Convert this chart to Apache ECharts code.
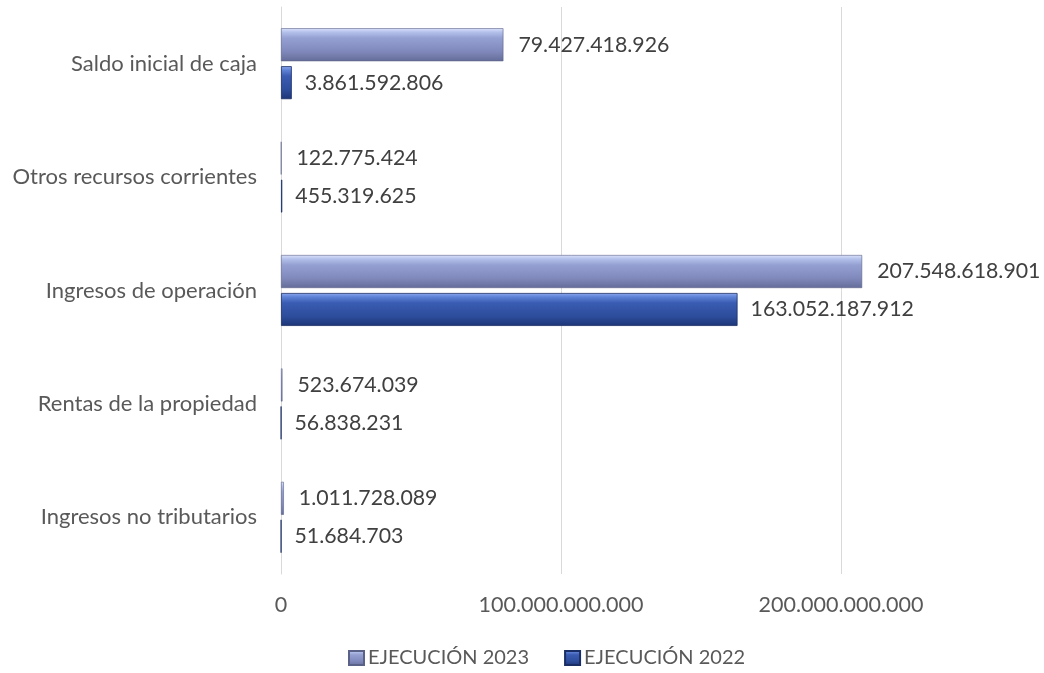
<!DOCTYPE html>
<html>
<head>
<meta charset="utf-8">
<script src="https://cdn.jsdelivr.net/npm/echarts@6/dist/echarts.min.js"></script>
<style>html,body{margin:0;padding:0;background:#fff}#c{width:1044px;height:673px}</style>
</head>
<body>
<div id="c"></div>
<script>
const categories = ['Ingresos no tributarios', 'Rentas de la propiedad', 'Ingresos de operación', 'Otros recursos corrientes', 'Saldo inicial de caja'];
const seriesNames = ['EJECUCIÓN 2023', 'EJECUCIÓN 2022'];
const values2023 = [1011728089, 523674039, 207548618901, 122775424, 79427418926];
const values2022 = [51684703, 56838231, 163052187912, 455319625, 3861592806];
const xTicks = [0, 100000000000, 200000000000];

function fmt(v) {
  return String(Math.round(v)).replace(/\B(?=(\d{3})+(?!\d))/g, '.');
}
const font = 'Lato, "Open Sans", sans-serif';
const txt = '#404040';
const axTxt = '#595959';

const grad2023 = new echarts.graphic.LinearGradient(0, 0, 0, 1, [
  {offset: 0, color: '#dbe3fb'},
  {offset: 0.12, color: '#b3c0ea'},
  {offset: 0.3, color: '#95a0d2'},
  {offset: 0.7, color: '#8089bb'},
  {offset: 1, color: '#646d98'}
]);
const grad2022 = new echarts.graphic.LinearGradient(0, 0, 0, 1, [
  {offset: 0, color: '#8eaaf0'},
  {offset: 0.12, color: '#5f82d6'},
  {offset: 0.3, color: '#3a5cb2'},
  {offset: 0.7, color: '#2d4d9c'},
  {offset: 1, color: '#1d3577'}
]);

const chart = echarts.init(document.getElementById('c'), null, {renderer: 'canvas'});
chart.setOption({
  animation: false,
  backgroundColor: '#ffffff',
  textStyle: {fontFamily: font},
  grid: {left: 281, right: 63, top: 7, bottom: 99, containLabel: false},
  legend: {
    data: seriesNames,
    bottom: 5,
    left: 348,
    padding: 0,
    itemWidth: 15,
    itemHeight: 14,
    itemGap: 35,
    icon: 'rect',
    textStyle: {color: axTxt, fontSize: 20, fontFamily: font, padding: [0, 0, 0, -1]}
  },
  xAxis: {
    type: 'value',
    min: 0,
    max: 250000000000,
    interval: 100000000000,
    axisLine: {show: false},
    axisTick: {show: false},
    splitLine: {show: true, showMaxLine: false, lineStyle: {color: '#d9d9d9', width: 1}},
    axisLabel: {
      color: axTxt, fontSize: 21.5, fontFamily: font, margin: 20,
      showMaxLabel: false,
      formatter: v => xTicks.indexOf(v) >= 0 ? fmt(v) : ''
    }
  },
  yAxis: {
    type: 'category',
    data: categories,
    axisLine: {show: true, lineStyle: {color: '#d9d9d9'}},
    axisTick: {show: false},
    axisLabel: {color: axTxt, fontSize: 22, fontFamily: font, margin: 24}
  },
  series: [
    {
      name: seriesNames[0], type: 'bar', data: values2023,
      barWidth: 33, barGap: '15%',
      itemStyle: {color: grad2023, borderColor: '#5a6288', borderWidth: 0.6},
      label: {show: true, position: 'right', distance: 15, color: txt, fontSize: 21.3, fontFamily: font, formatter: p => fmt(p.value)}
    },
    {
      name: seriesNames[1], type: 'bar', data: values2022,
      barWidth: 33, barGap: '15%',
      itemStyle: {color: grad2022, borderColor: '#1a2e66', borderWidth: 0.8},
      label: {show: true, position: 'right', distance: 13, color: txt, fontSize: 21.3, fontFamily: font, formatter: p => fmt(p.value)}
    }
  ]
});
</script>
</body>
</html>
